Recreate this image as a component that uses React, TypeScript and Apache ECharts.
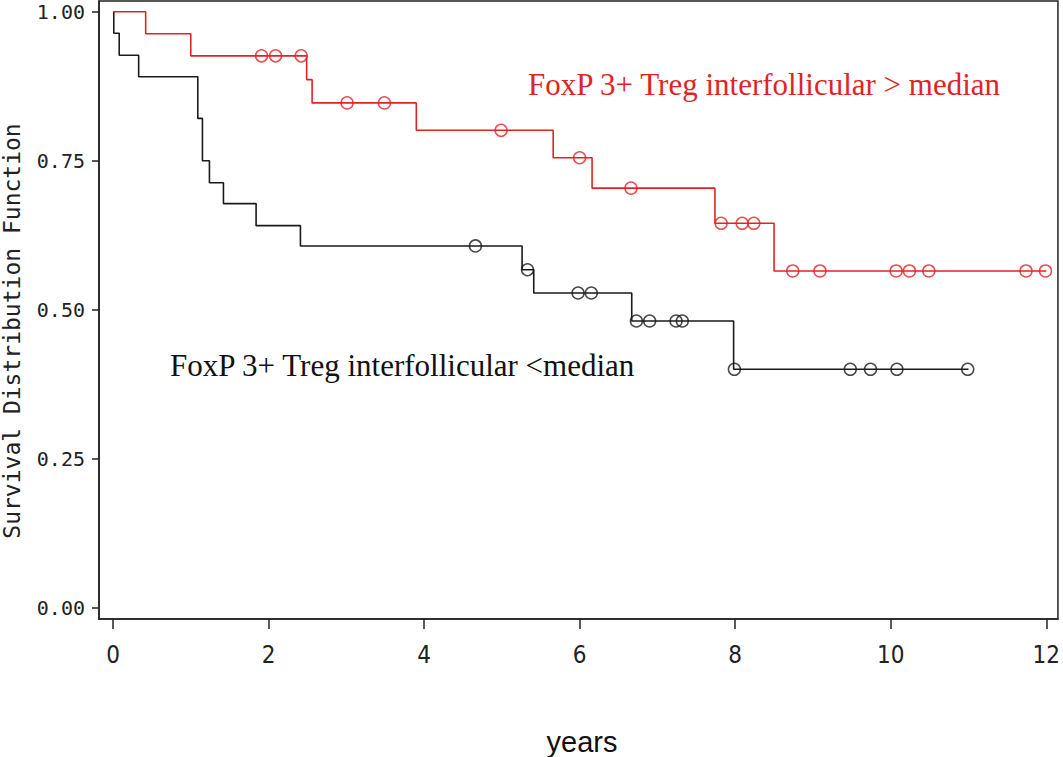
import React, { useEffect, useRef } from "react";
import * as echarts from "echarts";

// High group (red): event times and survival after each drop
const highEventTimes = [0.42, 1.0, 2.49, 2.56, 3.9, 5.66, 6.16, 7.74, 8.5];
const highSurvival = [0.963, 0.926, 0.886, 0.847, 0.801, 0.755, 0.704, 0.645, 0.565];
const highCensorTimes = [1.91, 2.09, 2.42, 3.01, 3.49, 4.99, 6.0, 6.66, 7.82, 8.09, 8.24, 8.74, 9.09, 10.07, 10.24, 10.49, 11.74, 11.99];
const highEndTime = 12.0;

// Low group (black)
const lowEventTimes = [0.01, 0.08, 0.33, 1.09, 1.15, 1.24, 1.42, 1.84, 2.41, 5.26, 5.41, 6.67, 7.98];
const lowSurvival = [0.964, 0.927, 0.891, 0.821, 0.75, 0.713, 0.678, 0.641, 0.607, 0.567, 0.528, 0.481, 0.4];
const lowCensorTimes = [4.66, 5.33, 5.98, 6.15, 6.73, 6.9, 7.24, 7.32, 7.99, 9.48, 9.74, 10.08, 10.99];
const lowEndTime = 11.0;

const xTicks = [0, 2, 4, 6, 8, 10, 12];
const yTicks = [0, 0.25, 0.5, 0.75, 1.0];

const highLabel = "FoxP 3+ Treg interfollicular > median";
const lowLabel = "FoxP 3+ Treg interfollicular <median";
const xName = "years";
const yName = "Survival Distribution Function";

const RED = "#e02424";
const BLACK = "#1a1a1a";

function stepLine(times: number[], surv: number[], end: number) {
  const pts: number[][] = [[0, 1]];
  times.forEach((t, i) => pts.push([t, surv[i]]));
  pts.push([end, surv[surv.length - 1]]);
  return pts;
}

function survivalAt(times: number[], surv: number[], t: number) {
  let s = 1;
  for (let i = 0; i < times.length; i++) {
    if (times[i] <= t) s = surv[i];
  }
  return s;
}

function censorPoints(ct: number[], times: number[], surv: number[]) {
  return ct.map((t) => [t, survivalAt(times, surv, t)]);
}

const MONO = "'DejaVu Sans Mono', monospace";

export default function App() {
  const ref = useRef<HTMLDivElement>(null);
  useEffect(() => {
    if (!ref.current) return;
    const chart = echarts.init(ref.current, null, { renderer: "svg" });
    chart.setOption({
      animation: false,
      backgroundColor: "#ffffff",
      grid: {
        left: 99,
        top: 1,
        width: 962,
        height: 618,
        show: true,
        borderColor: "#222",
        borderWidth: 1.5,
        containLabel: false,
      },
      xAxis: {
        type: "value",
        min: -0.18,
        max: 12.15,
        splitLine: { show: false },
        axisLine: { show: true, onZero: false, lineStyle: { color: "#222", width: 1.5 } },
        axisTick: {
          show: true,
          customValues: xTicks,
          length: 10,
          lineStyle: { color: "#222", width: 1.5 },
        },
        axisLabel: {
          customValues: xTicks,
          margin: 24,
          color: "#222",
          fontFamily: "'Liberation Sans Narrow', 'DejaVu Sans Condensed', " + MONO,
          fontSize: 24,
          formatter: (v: number) => String(v),
        },
      },
      yAxis: {
        type: "value",
        min: -0.019,
        max: 1.018,
        splitLine: { show: false },
        axisLine: { show: true, onZero: false, lineStyle: { color: "#222", width: 1.5 } },
        axisTick: {
          show: true,
          customValues: yTicks,
          length: 7,
          lineStyle: { color: "#222", width: 1.5 },
        },
        axisLabel: {
          customValues: yTicks,
          margin: 14,
          color: "#222",
          fontFamily: MONO,
          fontSize: 20,
          formatter: (v: number) => v.toFixed(2),
        },
      },
      graphic: [
        {
          type: "text",
          x: 528,
          y: 84,
          style: {
            text: highLabel,
            fill: RED,
            font: "31px 'Liberation Serif', 'Times New Roman', serif",
            textAlign: "left",
            textVerticalAlign: "middle",
          },
        },
        {
          type: "text",
          x: 170,
          y: 365,
          style: {
            text: lowLabel,
            fill: "#111",
            font: "31px 'Liberation Serif', 'Times New Roman', serif",
            textAlign: "left",
            textVerticalAlign: "middle",
          },
        },
        {
          type: "text",
          x: 582,
          y: 742,
          style: {
            text: xName,
            fill: "#111",
            font: "29px 'Liberation Sans', Arial, sans-serif",
            textAlign: "center",
            textVerticalAlign: "middle",
          },
        },
        {
          type: "text",
          x: 12,
          y: 331,
          rotation: Math.PI / 2,
          style: {
            text: yName,
            fill: "#222",
            font: "23px " + MONO,
            textAlign: "center",
            textVerticalAlign: "middle",
          },
        },
      ],
      series: [
        {
          type: "line",
          step: "end",
          data: stepLine(lowEventTimes, lowSurvival, lowEndTime),
          showSymbol: false,
          symbol: "none",
          lineStyle: { color: BLACK, width: 1.6 },
          z: 2,
        },
        {
          type: "line",
          step: "end",
          data: stepLine(highEventTimes, highSurvival, highEndTime),
          showSymbol: false,
          symbol: "none",
          lineStyle: { color: RED, width: 1.6 },
          z: 3,
        },
        {
          type: "scatter",
          data: censorPoints(lowCensorTimes, lowEventTimes, lowSurvival),
          symbol: "circle",
          symbolSize: 12,
          itemStyle: { color: "none", borderColor: BLACK, borderWidth: 1.5 },
          z: 4,
        },
        {
          type: "scatter",
          data: censorPoints(highCensorTimes, highEventTimes, highSurvival),
          symbol: "circle",
          symbolSize: 12,
          itemStyle: { color: "none", borderColor: RED, borderWidth: 1.5 },
          z: 5,
        },
      ],
    });
    return () => chart.dispose();
  }, []);
  return (
    <div
      ref={ref}
      style={{ position: "fixed", left: 0, top: 0, width: 1063, height: 757, background: "#fff" }}
    />
  );
}
